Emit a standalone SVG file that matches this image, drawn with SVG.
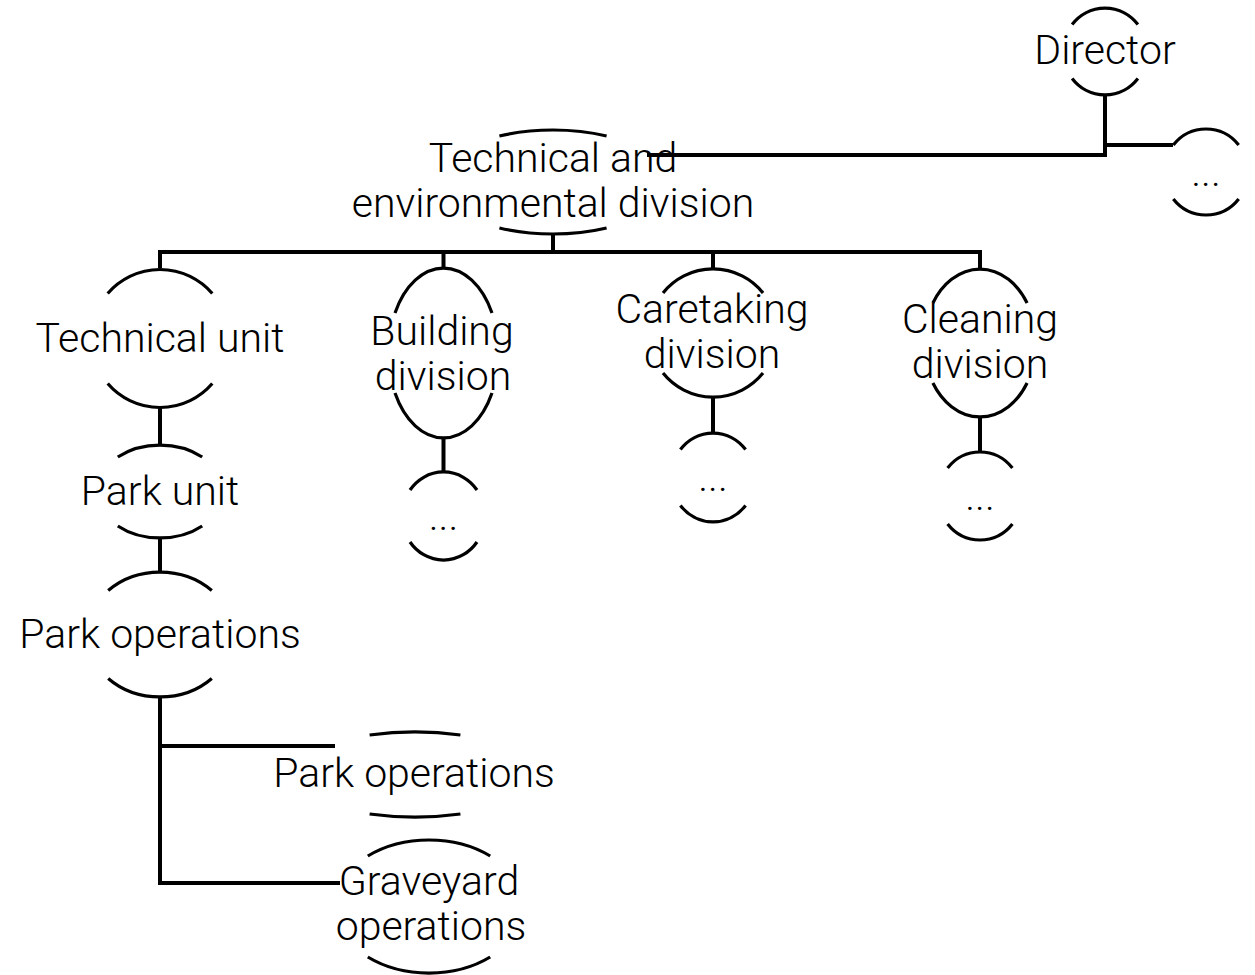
<svg xmlns="http://www.w3.org/2000/svg" width="1255" height="975" viewBox="0 0 1255 975">
<style>
.arc{fill:none;stroke:#000;stroke-width:3.2;stroke-linecap:butt}
.lbl{font-family:Roboto,"Liberation Sans",Arial,sans-serif;font-weight:300;font-size:41px;fill:#000;text-anchor:middle}
.edge{fill:none;stroke:#000;stroke-width:4;stroke-linejoin:miter}
</style>
<rect width="1255" height="975" fill="#fff"/>
<g id="node-director">
<path class="arc" d="M1072.1,24.5 A42,43.5 0 0 1 1137.9,24.5"/>
<path class="arc" d="M1137.9,78.5 A42,43.5 0 0 1 1072.1,78.5"/>
<text class="lbl" x="1105" y="64">Director</text>
</g>
<g id="node-director-more">
<path class="arc" d="M1173.3,145 A42,43 0 0 1 1238.7,145"/>
<path class="arc" d="M1238.7,199 A42,43 0 0 1 1173.3,199"/>
<text class="lbl" x="1206" y="186">...</text>
</g>
<g id="node-technical-env">
<path class="arc" d="M499.4,136 A115,52 0 0 1 606.6,136"/>
<path class="arc" d="M606.6,228 A115,52 0 0 1 499.4,228"/>
<text class="lbl" x="553" y="172">Technical and</text>
<text class="lbl" x="553" y="217">environmental division</text>
</g>
<g id="node-technical-unit">
<path class="arc" d="M107.7,293.5 A69,69 0 0 1 212.3,293.5"/>
<path class="arc" d="M212.3,383.5 A69,69 0 0 1 107.7,383.5"/>
<text class="lbl" x="160" y="352">Technical unit</text>
</g>
<g id="node-park-unit">
<path class="arc" d="M117.8,457 A63,46.5 0 0 1 202.2,457"/>
<path class="arc" d="M202.2,526 A63,46.5 0 0 1 117.8,526"/>
<text class="lbl" x="160" y="505">Park unit</text>
</g>
<g id="node-park-operations">
<path class="arc" d="M108.2,590.5 A73,62.5 0 0 1 211.8,590.5"/>
<path class="arc" d="M211.8,678.5 A73,62.5 0 0 1 108.2,678.5"/>
<text class="lbl" x="160" y="648">Park operations</text>
</g>
<g id="node-park-operations-2">
<path class="arc" d="M369.6,735 A123,42.5 0 0 1 460.4,735"/>
<path class="arc" d="M460.4,814 A123,42.5 0 0 1 369.6,814"/>
<text class="lbl" x="414" y="787">Park operations</text>
</g>
<g id="node-graveyard">
<path class="arc" d="M367.8,856 A94,66.5 0 0 1 490.2,856"/>
<path class="arc" d="M490.2,957 A94,66.5 0 0 1 367.8,957"/>
<text class="lbl" x="429" y="895">Graveyard</text>
<text class="lbl" x="431" y="940">operations</text>
</g>
<g id="node-building">
<path class="arc" d="M395,313 A55,85 0 0 1 492,313"/>
<path class="arc" d="M492,393 A55,85 0 0 1 395,393"/>
<text class="lbl" x="442" y="345">Building</text>
<text class="lbl" x="443" y="390">division</text>
</g>
<g id="node-building-more">
<path class="arc" d="M410,490 A41.5,44 0 0 1 477,490"/>
<path class="arc" d="M477,542 A41.5,44 0 0 1 410,542"/>
<text class="lbl" x="443.5" y="530">...</text>
</g>
<g id="node-caretaking">
<path class="arc" d="M663,293 A64,64 0 0 1 763,293"/>
<path class="arc" d="M763,373 A64,64 0 0 1 663,373"/>
<text class="lbl" x="712" y="323">Caretaking</text>
<text class="lbl" x="712" y="368">division</text>
</g>
<g id="node-caretaking-more">
<path class="arc" d="M680.4,449.5 A42,44.5 0 0 1 745.6,449.5"/>
<path class="arc" d="M745.6,505.5 A42,44.5 0 0 1 680.4,505.5"/>
<text class="lbl" x="713" y="491">...</text>
</g>
<g id="node-cleaning">
<path class="arc" d="M932.9,303 A56,74 0 0 1 1027.1,303"/>
<path class="arc" d="M1027.1,383 A56,74 0 0 1 932.9,383"/>
<text class="lbl" x="980" y="333">Cleaning</text>
<text class="lbl" x="980" y="378">division</text>
</g>
<g id="node-cleaning-more">
<path class="arc" d="M947.6,468 A42,44 0 0 1 1012.4,468"/>
<path class="arc" d="M1012.4,524 A42,44 0 0 1 947.6,524"/>
<text class="lbl" x="980" y="510">...</text>
</g>
<g id="connectors">
<path class="edge" d="M1105,95 V155 H647"/>
<path class="edge" d="M1105,145 H1173"/>
<path class="edge" d="M553,234 V252"/>
<path class="edge" d="M160,268 V252 H980 V269"/>
<path class="edge" d="M443.5,252 V268"/>
<path class="edge" d="M713,252 V269"/>
<path class="edge" d="M160,408 V445"/>
<path class="edge" d="M160,538 V572"/>
<path class="edge" d="M160,697 V883 H340"/>
<path class="edge" d="M160,746 H335"/>
<path class="edge" d="M443.5,438 V472"/>
<path class="edge" d="M713,397 V433"/>
<path class="edge" d="M980,417 V452"/>
</g>
</svg>
